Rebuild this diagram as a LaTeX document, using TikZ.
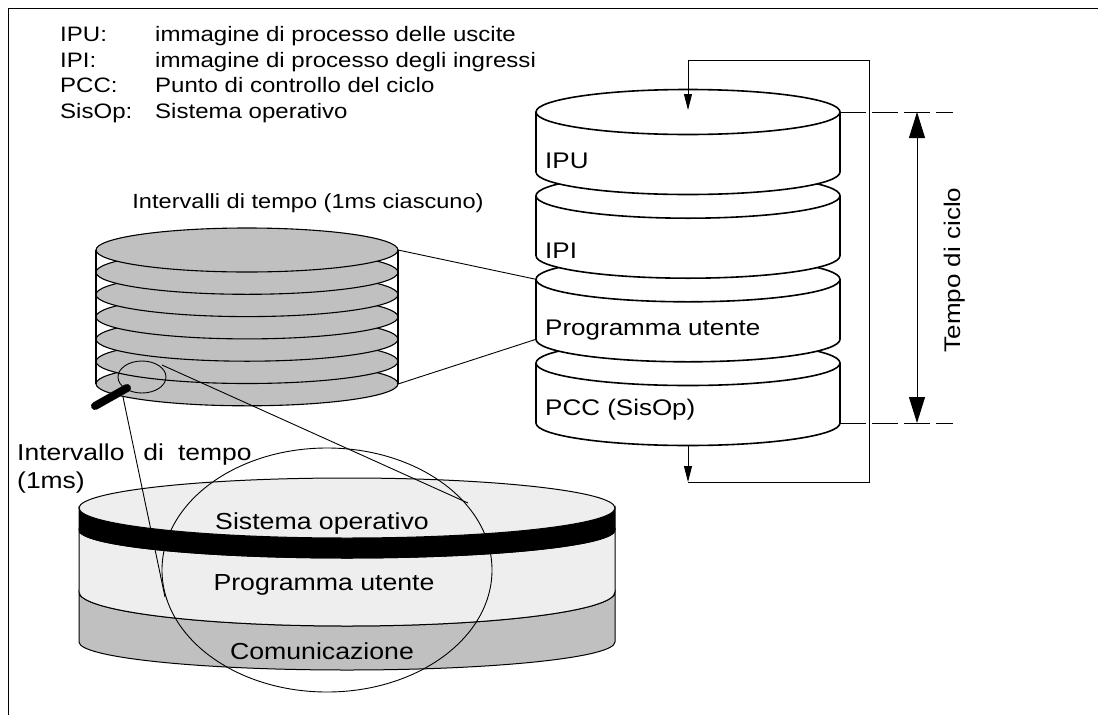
\documentclass[tikz,border=0pt]{standalone}
\usepackage{fontspec}
\setmainfont[FakeStretch=1.15]{Liberation Sans}
\usetikzlibrary{arrows.meta,positioning}

\begin{document}
\begin{tikzpicture}[
    x=1pt, y=-1pt,                   % 1 unit = 1 px of the sheet, y downwards
    >={Triangle[length=16pt,width=8pt]},
    font=\fontsize{22.6}{27}\selectfont,
    txt/.style={inner sep=0pt,anchor=base west},
    legend/.style={inner sep=0pt,anchor=base west,font=\fontsize{20.9}{25}\selectfont},
    disc/.style={inner sep=0pt,anchor=base,font=\fontsize{23.2}{28}\selectfont},
    slice/.style={fill=sliceG,draw=black,line width=1.1pt},
    cyl/.style={fill=white,draw=black,line width=1.6pt},
    lead/.style={line width=0.9pt},
    dim/.style={line width=0.9pt,dash pattern=on 26pt off 6pt},
    big/.style={{Triangle[length=26pt,width=16pt]}-{Triangle[length=26pt,width=16pt]}},
  ]
  \definecolor{sliceG}{RGB}{192,192,192}
  \definecolor{discL}{RGB}{238,238,238}
  \useasboundingbox (0,0) rectangle (1098,715);

  %% ---------------- frame ----------------
  \draw[line width=1pt] (8,715) -- (8,8) -- (1098,8);

  %% ---------------- legend ----------------
  \foreach \y/\a/\b [count=\i] in {41.5/IPU:/immagine di processo delle uscite,
                                   67/IPI:/immagine di processo degli ingressi,
                                   92.5/PCC:/Punto di controllo del ciclo,
                                   118/SisOp:/Sistema operativo}{
    \node[legend] (abbr\i) at (60,\y) {\a};
    \node[legend] (desc\i) at (155,\y) {\b};}

  %% ---------------- time slices ----------------
  \def\SX{247}\def\SRX{151}\def\SRY{22}
  \node[inner sep=0pt,anchor=base,font=\fontsize{20.5}{25}\selectfont] (slicesT) at (308,208)
        {Intervalli di tempo (1ms ciascuno)};
  \foreach \k in {6,5,...,0}{
    \filldraw[slice] (\SX,{250+22.3*\k}) ellipse [x radius=\SRX,y radius=\SRY];}
  \draw[line width=1.1pt] (96,250) -- (96,384) (398,250) -- (398,384);
  \coordinate (sTop) at (398,250);
  \coordinate (sBot) at (398,384);

  %% ---------------- cycle ----------------
  \def\CL{536}\def\CR{840}\def\CRX{152}\def\CRY{22.5}
  \foreach \t in {363,279.3,195.7,112}{
    \pgfmathsetmacro{\b}{\t+60}
    \filldraw[cyl] (\CL,\t) -- (\CL,\b) arc[start angle=180,end angle=0,x radius=\CRX,y radius=\CRY]
        -- (\CR,\t) arc[start angle=0,end angle=-180,x radius=\CRX,y radius=\CRY] -- cycle;
    \draw[cyl,fill=none] (\CR,\t) arc[start angle=0,end angle=180,x radius=\CRX,y radius=\CRY];}
  \node[txt] (ipu) at (545,168) {IPU};
  \node[txt] (ipi) at (545,258) {IPI};
  \node[txt] (prog) at (545,335) {Programma utente};
  \node[txt] (pcc) at (545,415) {PCC (SisOp)};
  \coordinate (c3Top) at (\CL,279.3);
  \coordinate (c3Bot) at (\CL,339.3);
  \draw[lead] (sTop) -- (c3Top);
  \draw[lead] (sBot) -- (c3Bot);

  % loop back to the start
  \coordinate (cycOut) at (688,445);
  \coordinate (loopBL) at (688,482);
  \coordinate (loopBR) at (869,482);
  \coordinate (loopTR) at (869,60);
  \coordinate (loopTL) at (688,60);
  \coordinate (cycIn) at (688,110);
  \draw[lead,->] (cycOut) -- (loopBL);
  \draw[lead,->] (loopBL) -- (loopBR) -- (loopTR) -- (loopTL) -- (cycIn);

  % cycle time
  \coordinate (dimT) at (840,112);  \coordinate (dimTe) at (953,112);
  \coordinate (dimB) at (840,423);  \coordinate (dimBe) at (953,423);
  \draw[dim] (dimT) -- (dimTe);
  \draw[dim] (dimB) -- (dimBe);
  \coordinate (arrT) at (917,112);
  \coordinate (arrB) at (917,423);
  \draw[lead,big] (arrT) -- (arrB);
  \node[inner sep=0pt,rotate=90,anchor=base] (tcyc) at (960,270) {Tempo di ciclo};

  %% ---------------- one slice, magnified ----------------
  \def\DL{79}\def\DR{615}\def\DRX{268}
  \filldraw[fill=sliceG,line width=1pt] (\DL,592) -- (\DL,642) arc[start angle=180,end angle=0,x radius=\DRX,y radius=28]
      -- (\DR,592) arc[start angle=0,end angle=180,x radius=\DRX,y radius=34] -- cycle;
  \filldraw[fill=discL,line width=1pt] (\DL,530) -- (\DL,592) arc[start angle=180,end angle=0,x radius=\DRX,y radius=34]
      -- (\DR,530) arc[start angle=0,end angle=180,x radius=\DRX,y radius=28] -- cycle;
  \filldraw[fill=black,line width=1pt] (\DL,508) -- (\DL,530) arc[start angle=180,end angle=0,x radius=\DRX,y radius=28]
      -- (\DR,508) arc[start angle=0,end angle=180,x radius=\DRX,y radius=30] -- cycle;
  \filldraw[fill=discL,line width=1pt] (347,508) ellipse [x radius=\DRX,y radius=30];
  \node[disc] (os) at (322,529) {Sistema operativo};
  \node[disc] (user) at (324,590) {Programma utente};
  \node[disc] (comm) at (322,659) {Comunicazione};
  \node[txt,font=\fontsize{23}{28}\selectfont] (slice1) at (17,460) {Intervallo\hspace{19pt}di\hspace{14pt}tempo};
  \node[txt,font=\fontsize{23}{28}\selectfont] (slice1b) at (17,488) {(1ms)};

  % lens
  \draw[line width=0.9pt] (327,570) ellipse [x radius=165,y radius=122];
  \draw[line width=0.9pt] (142,377) ellipse [x radius=24,y radius=16];
  \draw[line width=8pt,line cap=round] (95,406) -- (127,388);
  \coordinate (magL) at (123,397);  \coordinate (lensL) at (165,597);
  \coordinate (magR) at (162,365);  \coordinate (lensR) at (468,503);
  \draw[lead] (magL) -- (lensL);
  \draw[lead] (magR) -- (lensR);
\end{tikzpicture}
\end{document}
